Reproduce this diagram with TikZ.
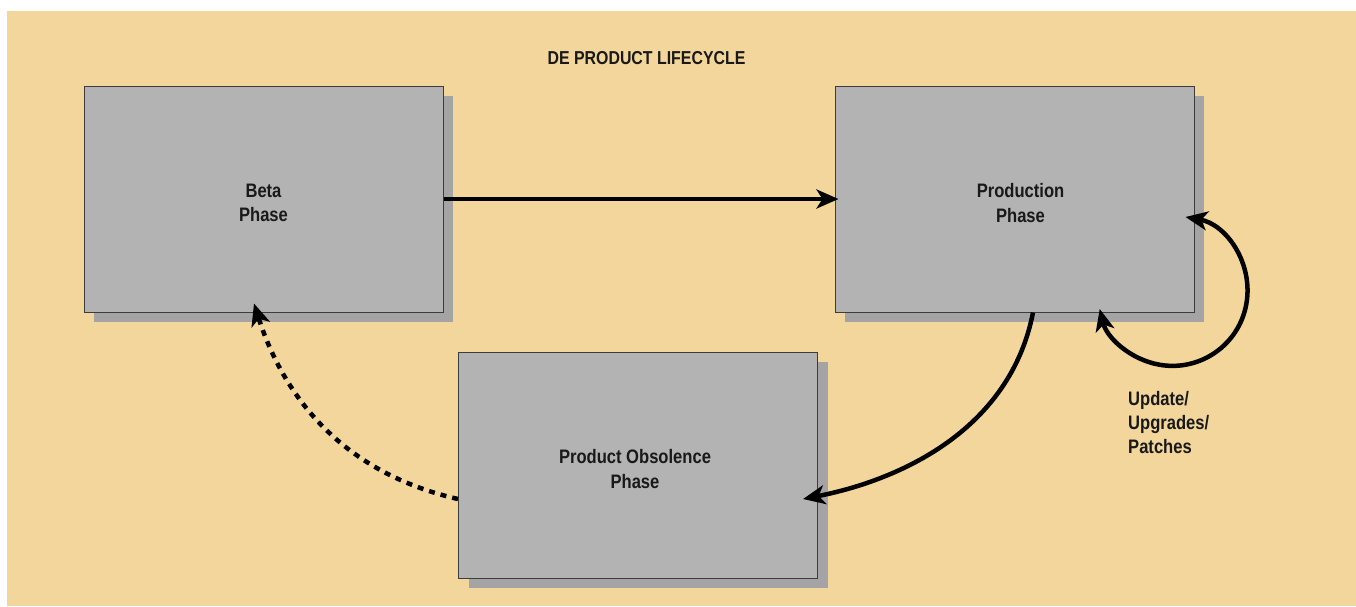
\documentclass[tikz,border=0pt]{standalone}
\usepackage{fontspec}
\setmainfont{Liberation Sans}[FakeStretch=0.85]
\usetikzlibrary{arrows.meta,shadows,calc}
\definecolor{bgbeige}{RGB}{243,214,155}
\definecolor{boxgray}{RGB}{179,179,179}
\definecolor{shadowgray}{RGB}{164,164,164}
\definecolor{edgegray}{RGB}{60,60,60}
\tikzset{
  phasebox/.style={rectangle, minimum width=359pt, minimum height=226pt, inner sep=0pt,
    fill=boxgray, draw=edgegray, line width=1pt,
    drop shadow={shadow xshift=10pt, shadow yshift=-10pt, fill=shadowgray, opacity=1}},
  boxtext/.style={align=center, inner sep=0pt, font=\fontsize{19.5}{24.5}\selectfont\bfseries, text=black!90, yshift=-4pt},
  tip/.style={-{Stealth[length=22pt,width=19pt,inset=6pt]}},
  conn/.style={line width=4.5pt, black},
  lbl/.style={font=\fontsize{19.5}{24}\selectfont\bfseries, text=black!90, align=left, inner sep=0pt}
}
\begin{document}
\begin{tikzpicture}[x=1pt,y=-1pt]
\useasboundingbox (0,0) rectangle (1356,606);
\fill[white] (0,0) rectangle (1356,606);
\fill[bgbeige] (7,11) rectangle (1356,606);
\node[font=\fontsize{18.7}{22}\selectfont\bfseries, text=black!90, inner sep=0pt] (title) at (646.5,58) {DE PRODUCT LIFECYCLE};
\node[phasebox, label={[boxtext]center:Beta\\Phase}] (beta) at (263.5,199) {};
\node[phasebox, label={[boxtext, xshift=6pt]center:Production\\Phase}] (prod) at (1014.5,199) {};
\node[phasebox, label={[boxtext, xshift=-3pt]center:Product Obsolence\\Phase}] (obs) at (638,465) {};
\node[lbl, anchor=north west] (upd) at (1128,391) {Update/\\Upgrades/\\Patches};
% connectors
\draw[conn, tip] (beta.east) -- ($(prod.west)+(4,0)$);
\draw[conn, {Stealth[length=22pt,width=19pt,inset=6pt]}-{Stealth[length=22pt,width=19pt,inset=6pt]}]
  ($(prod.east)+(-9,18)$) arc[start angle=-80, end angle=166, radius=75];
\draw[conn, tip] ($(prod.south)+(18.5,0)$) .. controls (1010,430) and (900,480) .. ($(obs.east)+(-15,34)$);
\draw[conn, tip, dash pattern=on 6pt off 6pt] ($(obs.west)+(0,34)$) .. controls (322,468) and (275.5,371) .. ($(beta.south)+(-9.5,-9)$);
\end{tikzpicture}
\end{document}
